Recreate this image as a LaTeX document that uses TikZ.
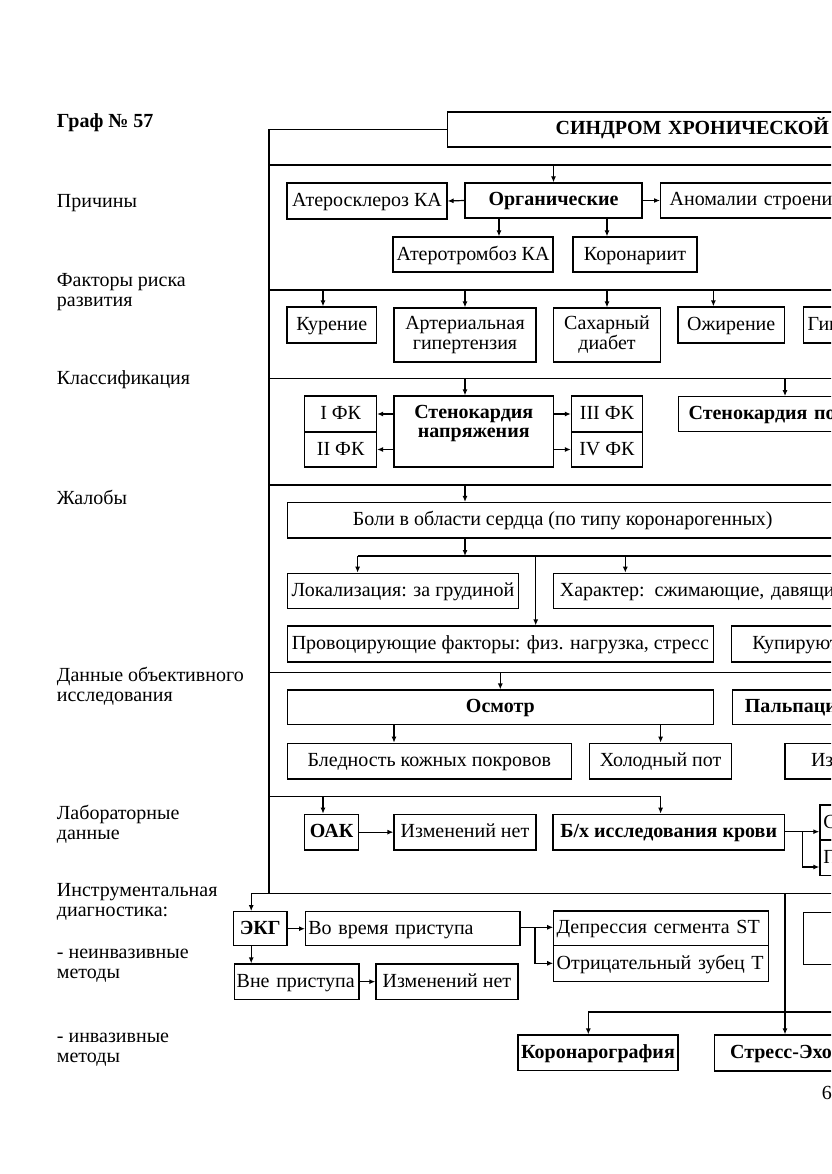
\documentclass[tikz,border=0pt]{standalone}
\usepackage{fontspec}
\setmainfont{Liberation Serif}
\usetikzlibrary{arrows.meta}
\newcommand\fsz{\fontsize{20}{20}\selectfont}
\tikzset{
  bx0/.style={draw, line width=1.2pt, inner sep=0pt, font=\fsz, align=center},
  bx/.style={bx0, text height=14pt, text depth=3pt},
  bxb/.style={bx, font=\fsz\bfseries},
  cut/.style={anchor=west, text width=#1, align=left},
  ln/.style={line width=1.2pt},
  arr/.style={line width=1.2pt, -{Latex[length=6pt,width=5pt]}},
  lab/.style={font=\fsz, anchor=base west, align=left, inner sep=0pt}
}
\begin{document}
\begin{tikzpicture}[x=1pt,y=-1pt]
\useasboundingbox (0,0) rectangle (831,1174);
\fill[white] (0,0) rectangle (831,1174);
\clip (0,0) rectangle (831,1174);

% left labels (base = baseline of last line)
\node[lab, font=\fsz\bfseries] (g) at (56.7,128) {Граф № 57};
\node[lab] (l1) at (56.7,207.5) {Причины};
\node[lab] (l2) at (56.7,306) {Факторы риска\\развития};
\node[lab] (l3) at (56.7,384) {Классификация};
\node[lab] (l4) at (56.7,504) {Жалобы};
\node[lab] (l5) at (56.7,701) {Данные объективного\\исследования};
\node[lab] (l6) at (56.7,839) {Лабораторные\\данные};
\node[lab] (l7) at (56.7,916) {Инструментальная\\диагностика:};
\node[lab] (l8) at (56.7,978) {- неинвазивные\\методы};
\node[lab] (l9) at (56.7,1062) {- инвазивные\\методы};

% title
\node[bxb, cut=500pt, inner xsep=108pt, minimum height=35pt] (title) at (447,129.5) {СИНДРОМ ХРОНИЧЕСКОЙ КОРОНАРНОЙ};

% frame and section lines
\coordinate (fb) at (269,893.3);
\draw[ln] (title.west) -| (fb);
\coordinate (s1L) at (269,165);   \coordinate (s1R) at (900,165);
\coordinate (s2L) at (269,290);   \coordinate (s2R) at (900,290);
\coordinate (s3L) at (269,378.3); \coordinate (s3R) at (900,378.3);
\coordinate (s4L) at (269,485);   \coordinate (s4R) at (900,485);
\coordinate (s5L) at (269,672.3); \coordinate (s5R) at (900,672.3);
\coordinate (s6L) at (269,796.7); \coordinate (s6R) at (660.6,796.7);
\coordinate (i0) at (251.2,893.3); \coordinate (i1) at (900,893.3);
\draw[ln] (s1L) -- (s1R);
\draw[ln] (s2L) -- (s2R);
\draw[ln] (s3L) -- (s3R);
\draw[ln] (s4L) -- (s4R);
\draw[ln] (s5L) -- (s5R);
\draw[ln] (s6L) -- (s6R);
\draw[ln] (i0) -- (i1);

% causes
\node[bx, minimum width=160pt, minimum height=36pt] (ater) at (367,201) {Атеросклероз КА};
\node[bxb, minimum width=177pt, minimum height=35pt] (org) at (553.5,200.5) {Органические};
\node[bx, cut=250pt, inner xsep=9pt, minimum height=35pt] (anom) at (660,200.5) {Аномалии строения};
\node[bx, minimum width=160pt, minimum height=35pt] (atrt) at (473,254.5) {Атеротромбоз КА};
\node[bx, minimum width=124pt, minimum height=35pt] (koron) at (635,254.5) {Коронариит};
\draw[arr] (org.north |- s1L) -- (org.north);
\draw[arr] (org.west) -- (ater.east);
\draw[arr] (org.east) -- (anom.west);
\coordinate (o1) at (499,218); \coordinate (o2) at (607,218);
\draw[arr] (o1) -- (o1 |- atrt.north);
\draw[arr] (o2) -- (o2 |- koron.north);

% risk factors
\node[bx, minimum width=89.5pt, minimum height=36pt] (kur) at (331.75,325) {Курение};
\node[bx0, minimum width=142pt, minimum height=54pt] (ag) at (465,335) {Артериальная\\гипертензия};
\node[bx0, minimum width=107pt, minimum height=54pt] (sd) at (607,335) {Сахарный\\диабет};
\node[bx, minimum width=106.5pt, minimum height=36pt] (ozh) at (731.25,325) {Ожирение};
\node[bx, cut=200pt, inner xsep=4.5pt, minimum height=36pt] (gi) at (802.6,325) {Гиподинамия};
\coordinate (f1) at (323,290); \coordinate (f2) at (465,290);
\coordinate (f3) at (607,290); \coordinate (f4) at (713.4,290);
\draw[arr] (f1) -- (f1 |- kur.north);
\draw[arr] (f2) -- (f2 |- ag.north);
\draw[arr] (f3) -- (f3 |- sd.north);
\draw[arr] (f4) -- (f4 |- ozh.north);

% classification
\node[bx0, minimum width=159.5pt, minimum height=71pt] (sn) at (473.75,431.5) {};
\node[font=\fsz\bfseries, align=center, inner sep=0pt, anchor=base] (snt) at (473.75,437) {Стенокардия\\[-1pt]напряжения};
\node[bx, minimum width=71.7pt, minimum height=36pt] (fk1) at (340.65,414) {I ФК};
\node[bx, minimum width=71.7pt, minimum height=35pt] (fk2) at (340.65,449.5) {II ФК};
\node[bx, minimum width=71pt, minimum height=36pt] (fk3) at (606.9,414) {III ФК};
\node[bx, minimum width=71pt, minimum height=35pt] (fk4) at (606.9,449.5) {IV ФК};
\node[bxb, cut=250pt, inner xsep=10pt, minimum height=35pt] (sp) at (678,414.2) {Стенокардия покоя};
\coordinate (c1) at (465,378.3); \coordinate (c2) at (785,378.3);
\draw[arr] (c1) -- (c1 |- sn.north);
\draw[arr] (c2) -- (c2 |- sp.north);
\draw[arr] (sn.west |- fk1) -- (fk1.east);
\draw[arr] (sn.west |- fk2) -- (fk2.east);
\draw[arr] (sn.east |- fk3) -- (fk3.west);
\draw[arr] (sn.east |- fk4) -- (fk4.west);

% complaints
\node[bx, minimum width=551pt, minimum height=35.5pt] (boli) at (562.7,520.3) {Боли в области сердца (по типу коронарогенных)};
\node[bx, minimum width=231.3pt, minimum height=35pt] (lok) at (402.95,590.8) {Локализация: за грудиной};
\node[bx, cut=300pt, inner xsep=6.3pt, minimum height=35pt] (har) at (553,590.8) {Характер: сжимающие, давящие};
\node[bx, minimum width=426.1pt, minimum height=36pt] (prov) at (500.35,644) {Провоцирующие факторы: физ. нагрузка, стресс};
\node[bx, cut=250pt, inner xsep=20.7pt, minimum height=36pt] (kup) at (731,644) {Купируются};
\coordinate (j0) at (465,485);
\draw[arr] (j0) -- (j0 |- boli.north);
\coordinate (b0) at (465,556);
\coordinate (bL) at (357.6,556); \coordinate (bR) at (900,556);
\coordinate (bM) at (535.7,556); \coordinate (bH) at (625.3,556);
\draw[arr] (b0 |- boli.south) -- (b0);
\draw[ln] (bL) -- (bR);
\draw[arr] (bL) -- (bL |- lok.north);
\draw[arr] (bM) -- (bM |- prov.north);
\draw[arr] (bH) -- (bH |- har.north);

% objective
\node[bxb, minimum width=426.1pt, minimum height=34.3pt] (osm) at (500.35,707.15) {Осмотр};
\node[bxb, cut=250pt, inner xsep=12.7pt, minimum height=34.5pt] (palp) at (731.6,707.25) {Пальпация};
\node[bx, minimum width=284.1pt, minimum height=35.7pt] (bled) at (429.35,761.15) {Бледность кожных покровов};
\node[bx, minimum width=142pt, minimum height=35.7pt] (hol) at (660.6,761.15) {Холодный пот};
\node[bx, cut=250pt, inner xsep=26pt, minimum height=35.7pt] (iz) at (784.4,761.15) {Изменений нет};
\coordinate (e0) at (500.3,672.3);
\draw[arr] (e0) -- (e0 |- osm.north);
\coordinate (e1) at (394,724.3); \coordinate (e2) at (660.6,724.3);
\draw[arr] (e1) -- (e1 |- bled.north);
\draw[arr] (e2) -- (e2 |- hol.north);

% laboratory
\node[bxb, minimum width=53.5pt, minimum height=35.7pt] (oak) at (331.55,832.15) {ОАК};
\node[bx, minimum width=142pt, minimum height=35.7pt] (izm1) at (465,832.15) {Изменений нет};
\node[bxb, minimum width=231.4pt, minimum height=35.7pt] (bx) at (668.7,832.15) {Б/х исследования крови};
\node[bx, cut=200pt, inner xsep=3.4pt, minimum height=35pt] (ch1) at (819.3,822.5) {Содержание};
\node[bx, cut=200pt, inner xsep=3.4pt, minimum height=35.7pt] (ch2) at (819.3,857.85) {Повышение};
\coordinate (k0) at (323,796.7);
\draw[arr] (k0) -- (k0 |- oak.north);
\draw[arr] (s6R) -- (s6R |- bx.north);
\draw[arr] (oak.east) -- (izm1.west);
\coordinate (kj) at (802.6,831.7); \coordinate (kl) at (802.6,867);
\draw[arr] (bx.east |- kj) -- (kj) -- (kj -| ch1.west);
\draw[arr] (kj) -- (kl) -- (kl -| ch2.west);

% instrumental
\node[bxb, minimum width=53.4pt, minimum height=34pt] (ekg) at (260.3,928.7) {ЭКГ};
\node[bx, cut=208.7pt, inner xsep=2.8pt, minimum height=34pt] (vov) at (305,928.7) {Во время приступа};
\node[bx, cut=208.7pt, inner xsep=2.8pt, minimum height=34.7pt] (dep) at (553.2,928.35) {Депрессия сегмента ST};
\node[bx, cut=208.7pt, inner xsep=2.8pt, minimum height=36pt] (otr) at (553.2,963.7) {Отрицательный зубец Т};
\node[bx, cut=119.7pt, inner xsep=2.5pt, minimum height=35.3pt] (vne) at (233.6,981.65) {Вне приступа};
\node[bx, minimum width=142.1pt, minimum height=35.3pt] (izm2) at (446.95,981.65) {Изменений нет};
\node[bx0, anchor=north west, minimum width=120pt, minimum height=52.2pt] (rbox) at (802.6,911.5) {};
\node[bxb, minimum width=160pt, minimum height=35.7pt] (koro) at (598,1052.85) {Коронарография};
\node[bxb, cut=200pt, inner xsep=15.5pt, minimum height=36pt] (stress) at (714,1053) {Стресс-ЭхоКГ};
\draw[arr] (i0) -- (i0 |- ekg.north);
\draw[arr] (ekg.east |- vov) -- (vov.west);
\coordinate (dj) at (535,927.3); \coordinate (dl) at (535,963.3);
\draw[arr] (vov.east |- dj) -- (dj) -- (dj -| dep.west);
\draw[arr] (dj) -- (dl) -- (dl -| otr.west);
\coordinate (n0) at (251.2,945.7);
\draw[arr] (n0) -- (n0 |- vne.north);
\draw[arr] (vne.east |- izm2) -- (izm2.west);
\coordinate (v0) at (785,893.3);
\draw[arr] (v0) -- (v0 |- stress.north);
\coordinate (hL) at (588.3,1012); \coordinate (hR) at (900,1012);
\draw[ln] (hR) -- (hL);
\draw[arr] (hL) -- (hL |- koro.north);

% page number
\node[font=\fsz, anchor=west, inner sep=0pt] (pg) at (821.7,1093) {67};
\end{tikzpicture}
\end{document}
